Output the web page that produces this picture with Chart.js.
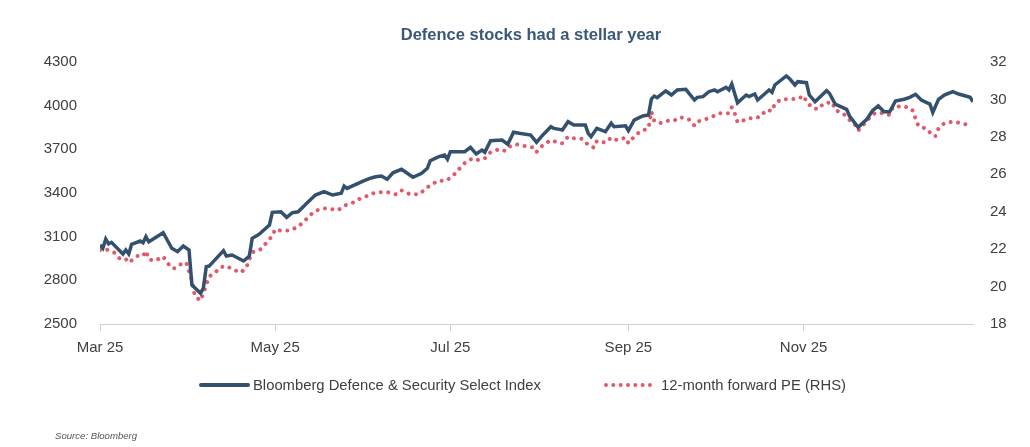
<!DOCTYPE html>
<html>
<head>
<meta charset="utf-8">
<script src="https://cdn.jsdelivr.net/npm/chart.js@4.4.1/dist/chart.umd.min.js"></script>
<style>
  html, body { margin: 0; padding: 0; background: #fff; }
  #wrap { position: relative; width: 1030px; height: 447px; font-family: "Liberation Sans", Arial, sans-serif; }
  #title { position: absolute; top: 25px; left: 0; width: 1062px; text-align: center; font-weight: bold; font-size: 16.5px; color: #3b5878; }
  .legend { position: absolute; top: 377px; font-size: 14.8px; color: #404040; display: flex; align-items: center; }
  .swatch-line { width: 51px; height: 0; border-top: 4px solid #33506e; border-radius: 2px; margin-right: 3px; }
  .swatch-dots { width: 48px; height: 0; border-top: 4px dotted #e05a6a; margin-right: 9px; }
  #source { position: absolute; left: 55px; top: 430px; font-size: 9.6px; font-style: italic; color: #555; }
</style>
</head>
<body>
<div id="wrap">
  <canvas id="chart" width="1030" height="447"></canvas>
  <div id="title">Defence stocks had a stellar year</div>
  <div class="legend" style="left:199px"><span class="swatch-line"></span>Bloomberg Defence &amp; Security Select Index</div>
  <div class="legend" style="left:604px"><span class="swatch-dots"></span>12-month forward PE (RHS)</div>
  <div id="source">Source: Bloomberg</div>
</div>
<script>
// Bloomberg Defence & Security Select Index (LHS)
const indexDates = ['03-01','03-02','03-03','03-04','03-05','03-09','03-10','03-11','03-12','03-15','03-16','03-17','03-18','03-23','03-26','03-28','03-30','04-01','04-02','04-05','04-06','04-07','04-08','04-13','04-14','04-16','04-20','04-22','04-23','04-25','04-26','04-29','04-30','05-03','05-05','05-07','05-09','05-12','05-15','05-18','05-21','05-24','05-25','05-26','06-01','06-03','06-05','06-07','06-09','06-11','06-14','06-18','06-21','06-23','06-24','06-27','06-29','06-30','07-01','07-06','07-08','07-10','07-12','07-13','07-15','07-19','07-21','07-23','07-25','07-29','07-31','08-02','08-05','08-06','08-08','08-09','08-11','08-13','08-17','08-18','08-19','08-21','08-24','08-26','08-27','08-31','09-01','09-03','09-06','09-08','09-09','09-10','09-11','09-14','09-16','09-18','09-21','09-24','09-25','09-27','09-29','10-01','10-02','10-05','10-06','10-07','10-09','10-12','10-13','10-15','10-16','10-20','10-21','10-22','10-26','10-27','10-29','10-30','11-02','11-03','11-05','11-09','11-10','11-12','11-16','11-17','11-20','11-23','11-25','11-27','11-29','12-01','12-03','12-06','12-08','12-10','12-12','12-15','12-16','12-18','12-20','12-23','12-25','12-29','12-30'];
const indexValues = [3043,3020,3084,3050,3061,2981,3008,2981,3047,3070,3058,3100,3065,3127,3020,2997,3036,3008,2768,2711,2747,2894,2898,3004,2967,2974,2933,2967,3089,3111,3127,3180,3267,3271,3233,3265,3271,3329,3386,3409,3386,3398,3448,3432,3485,3501,3512,3517,3494,3539,3563,3508,3535,3570,3622,3650,3661,3632,3684,3684,3714,3668,3695,3680,3759,3764,3735,3817,3810,3798,3748,3794,3855,3844,3837,3833,3890,3867,3867,3810,3787,3844,3821,3879,3855,3862,3828,3901,3929,3936,4046,4066,4055,4101,4073,4108,4112,4039,4057,4062,4096,4108,4096,4126,4108,4149,4020,4073,4062,4080,4039,4108,4092,4142,4204,4188,4142,4165,4158,4073,4027,4103,4085,4011,3975,3929,3851,3906,3965,3999,3958,3958,4032,4044,4057,4078,4039,4011,3954,4044,4073,4096,4080,4057,4027];

// 12-month forward PE (RHS)
const peDates = ['03-01','03-03','03-06','03-08','03-10','03-11','03-14','03-16','03-17','03-18','03-20','03-23','03-24','03-26','03-27','03-30','03-31','04-01','04-02','04-03','04-05','04-06','04-08','04-10','04-12','04-14','04-16','04-19','04-21','04-22','04-23','04-26','04-28','04-30','05-01','05-03','05-06','05-09','05-11','05-13','05-15','05-18','05-20','05-23','05-25','05-28','05-30','06-02','06-04','06-07','06-09','06-12','06-14','06-17','06-20','06-22','06-24','06-27','06-29','07-01','07-03','07-05','07-07','07-09','07-11','07-13','07-15','07-18','07-20','07-22','07-24','07-27','07-30','07-31','08-02','08-05','08-07','08-09','08-11','08-13','08-16','08-18','08-20','08-21','08-24','08-26','08-28','08-31','09-01','09-03','09-05','09-08','09-09','09-10','09-12','09-15','09-17','09-19','09-22','09-24','09-25','09-28','10-01','10-03','10-06','10-07','10-08','10-09','10-10','10-13','10-15','10-17','10-19','10-21','10-22','10-24','10-27','10-30','11-01','11-02','11-04','11-06','11-08','11-11','11-12','11-15','11-17','11-19','11-20','11-22','11-24','11-26','11-29','12-01','12-02','12-05','12-08','12-09','12-10','12-11','12-14','12-16','12-17','12-18','12-20','12-23','12-26','12-29'];
const peValues = [21.95,22.0,21.81,21.47,21.47,21.28,21.63,21.63,21.9,21.46,21.37,21.6,21.37,20.98,20.98,21.28,21.28,20.8,20.35,19.5,19.25,19.64,20.53,20.74,21.03,21.1,20.94,20.74,21.03,21.46,21.83,22.0,22.35,22.7,23.06,22.99,22.99,23.2,23.47,23.79,24.05,24.18,24.15,24.09,24.32,24.48,24.66,24.84,24.98,25.05,25.05,24.93,25.14,24.93,24.93,25.16,25.43,25.66,25.64,25.8,26.09,26.46,26.73,26.85,26.75,26.85,27.18,27.34,27.25,27.51,27.6,27.51,27.43,27.19,27.53,27.83,27.72,27.66,28.01,27.92,27.89,27.57,27.42,27.78,27.69,27.96,27.83,27.96,27.66,28.01,28.28,28.46,29.35,28.85,28.73,28.87,28.87,29.05,28.94,28.6,28.81,28.95,29.13,29.26,29.26,29.58,29.26,28.78,28.81,29.0,29.0,29.08,29.44,29.38,29.76,30.0,30.02,30.02,30.2,29.88,29.56,29.47,29.79,29.85,29.44,29.22,28.9,28.63,28.33,28.67,29.02,29.29,29.26,29.17,29.56,29.65,29.56,29.4,28.96,28.58,28.42,28.05,28.05,28.46,28.73,28.81,28.73,28.6];

// axis ticks
const tickDates = ['03-01','05-01','07-01','09-01','11-01'];
const tickLabels = ['Mar 25','May 25','Jul 25','Sep 25','Nov 25'];
const leftTicks = [2500, 2800, 3100, 3400, 3700, 4000, 4300];

// days since 1 Mar 2025
function dayOf(md) {
  const [m, d] = md.split('-').map(Number);
  return (Date.UTC(2025, m - 1, d) - Date.UTC(2025, 2, 1)) / 864e5;
}

const tickDays = tickDates.map(dayOf);
const indexData = indexDates.map((d, i) => ({ x: dayOf(d), y: indexValues[i] }));
const peData = peDates.map((d, i) => ({ x: dayOf(d), y: peValues[i] }));

const tickFont = { family: '"Liberation Sans", Arial, sans-serif', size: 15 };

new Chart(document.getElementById('chart'), {
  type: 'line',
  data: {
    datasets: [
      {
        label: 'Bloomberg Defence & Security Select Index',
        data: indexData,
        yAxisID: 'y',
        borderColor: '#33506e',
        borderWidth: 3.5,
        pointRadius: 0,
        tension: 0,
        order: 1
      },
      {
        label: '12-month forward PE (RHS)',
        data: peData,
        yAxisID: 'y2',
        borderColor: '#e05a6a',
        borderWidth: 4,
        borderDash: [0.01, 7.5],
        borderCapStyle: 'round',
        pointRadius: 0,
        tension: 0,
        order: 2
      }
    ]
  },
  options: {
    responsive: false,
    animation: false,
    layout: { padding: { top: 62, left: 0, right: 0, bottom: 0 } },
    plugins: {
      legend: { display: false },
      title: { display: false },
      tooltip: { enabled: false }
    },
    scales: {
      x: {
        type: 'linear',
        min: 0,
        max: 304,
        afterBuildTicks: axis => { axis.ticks = tickDays.map(v => ({ value: v })); },
        afterFit: axis => { axis.height = 123; },
        ticks: {
          autoSkip: false,
          maxRotation: 0,
          color: '#404040',
          font: tickFont,
          padding: 8,
          callback: v => tickLabels[tickDays.indexOf(v)]
        },
        grid: { display: true, drawOnChartArea: false, drawTicks: true, tickLength: 7, color: '#d0d0d0' },
        border: { display: true, color: '#d0d0d0', width: 1 }
      },
      y: {
        position: 'left',
        min: 2500,
        max: 4300,
        afterBuildTicks: axis => { axis.ticks = leftTicks.map(v => ({ value: v })); },
        afterFit: axis => { axis.width = 100; },
        ticks: { color: '#404040', font: tickFont, padding: 15, callback: v => String(v) },
        grid: { display: false },
        border: { display: false }
      },
      y2: {
        position: 'right',
        min: 18,
        max: 32,
        ticks: { stepSize: 2, color: '#404040', font: tickFont, padding: 9 },
        afterFit: axis => { axis.width = 57; },
        grid: { display: false },
        border: { display: false }
      }
    }
  }
});
</script>
</body>
</html>
